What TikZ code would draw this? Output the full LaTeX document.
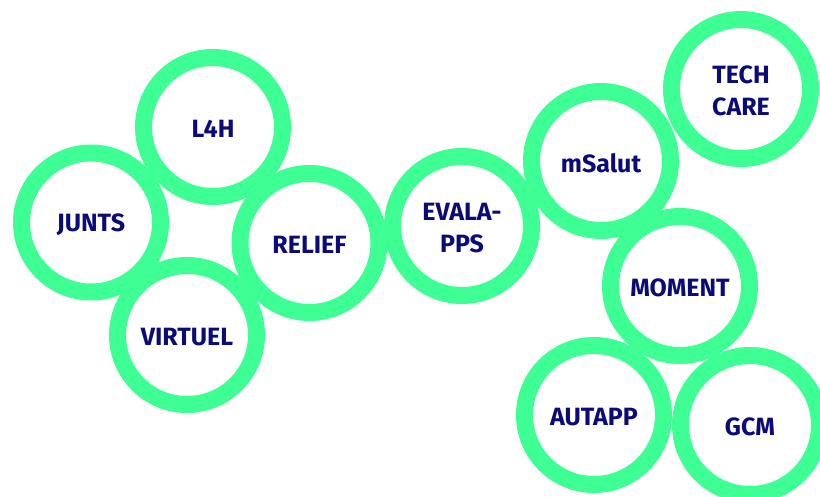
\documentclass[tikz,border=0pt]{standalone}
\usepackage{fontspec}
\setmainfont{Fira Sans}
\definecolor{ringgreen}{HTML}{3DFF94}
\definecolor{navytext}{HTML}{0B0B78}
\begin{document}
\begin{tikzpicture}[x=1pt,y=-1pt,
  ring/.style={circle,draw=ringgreen,fill=white,line width=17pt,minimum size=139pt,inner sep=0pt},
  lbl/.style={text=navytext,font=\fontsize{25}{32}\selectfont\bfseries,align=center}]
\useasboundingbox (0,0) rectangle (820,497);
\node[ring] (l4h) at (213,127) {};
\node[ring] (junts) at (91,222.5) {};
\node[ring] (virtuel) at (187,335) {};
\node[ring] (relief) at (309.5,243) {};
\node[ring] (evala) at (462,226) {};
\node[ring] (msalut) at (601,161) {};
\node[ring] (tech) at (741,89) {};
\node[ring] (moment) at (680,286) {};
\node[ring] (autapp) at (594,415) {};
\node[ring] (gcm) at (750,425) {};
\node[lbl] at ([yshift=-2pt]l4h.center) {L4H};
\node[lbl] at ([yshift=-2pt]junts.center) {JUNTS};
\node[lbl] at ([yshift=-2pt]virtuel.center) {VIRTUEL};
\node[lbl] at ([yshift=-2pt]relief.center) {RELIEF};
\node[lbl] at ([yshift=-2pt]evala.center) {EVALA-\\PPS};
\node[lbl] at ([yshift=-2pt]msalut.center) {mSalut};
\node[lbl] at ([yshift=-2pt]tech.center) {TECH\\CARE};
\node[lbl] at ([yshift=-2pt]moment.center) {MOMENT};
\node[lbl] at ([yshift=-2pt]autapp.center) {AUTAPP};
\node[lbl] at ([yshift=-2pt]gcm.center) {GCM};
\end{tikzpicture}
\end{document}
